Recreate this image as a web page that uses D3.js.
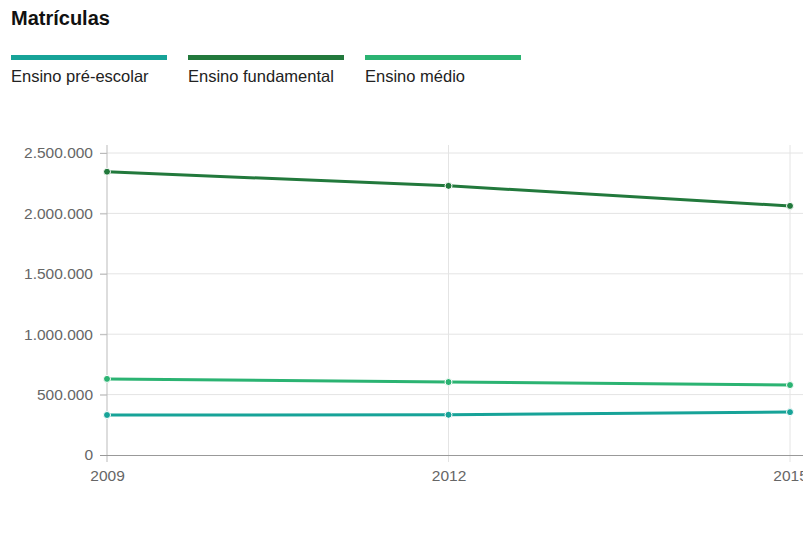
<!DOCTYPE html>
<html>
<head>
<meta charset="utf-8">
<script src="https://cdn.jsdelivr.net/npm/d3@7"></script>
<style>
  html, body { margin: 0; padding: 0; background: #fff; }
  svg { display: block; font-family: "Liberation Sans", Arial, sans-serif; }
</style>
</head>
<body>
<svg id="chart" width="803" height="533"></svg>
<script>
const years = [2009, 2012, 2015];
const seriesNames = ["Ensino pré-escolar", "Ensino fundamental", "Ensino médio"];
const preEscolar = [331000, 333000, 355000];
const fundamental = [2345000, 2228000, 2062000];
const medio = [630000, 604000, 579000];
const yTicks = [0, 500000, 1000000, 1500000, 2000000, 2500000];
const colors = ["#17a398", "#22793c", "#2bb372"];

const seriesValues = [preEscolar, fundamental, medio];
const svg = d3.select("#chart");

const x = d3.scaleLinear().domain([2009, 2015]).range([107, 790]);
const y = d3.scaleLinear().domain([0, 2500000]).range([455, 153]);

const fmt = d3.formatLocale({decimal: ",", thousands: ".", grouping: [3], currency: ["R$", ""]}).format(",.0f");

// Title
svg.append("text").attr("x", 11).attr("y", 25)
  .attr("font-size", 20).attr("font-weight", "bold").attr("fill", "#111")
  .text("Matrículas");

// Legend
const legendX = [11, 188, 365];
seriesNames.forEach((name, i) => {
  svg.append("rect").attr("x", legendX[i]).attr("y", 55).attr("width", 156).attr("height", 5)
    .attr("fill", colors[i]);
  svg.append("text").attr("x", legendX[i]).attr("y", 82)
    .attr("font-size", 16.5).attr("fill", "#222").text(name);
});

// Horizontal gridlines
svg.append("g").selectAll("line").data(yTicks.slice(1)).join("line")
  .attr("x1", 100).attr("x2", 803)
  .attr("y1", d => y(d)).attr("y2", d => y(d))
  .attr("stroke", "#e4e4e4").attr("stroke-width", 1);

// Vertical gridlines
svg.append("g").selectAll("line").data(years).join("line")
  .attr("x1", d => x(d)).attr("x2", d => x(d))
  .attr("y1", 145).attr("y2", 462)
  .attr("stroke", (d, i) => i === 0 ? "#bbb" : "#e4e4e4").attr("stroke-width", 1);

// Y axis
const yAxis = d3.axisLeft(y).tickValues(yTicks).tickFormat(fmt).tickSize(7).tickPadding(7);
const gy = svg.append("g").attr("transform", "translate(107,0)").call(yAxis);
gy.select(".domain").remove();
gy.selectAll(".tick line").attr("stroke", "#bbb");
gy.selectAll(".tick text").attr("font-size", 15.5).attr("fill", "#666")
  .attr("font-family", "Liberation Sans, Arial, sans-serif");

// X axis
const xAxis = d3.axisBottom(x).tickValues(years).tickFormat(d3.format("d")).tickSize(0).tickPadding(15);
const gx = svg.append("g").attr("transform", "translate(0,455)").call(xAxis);
gx.select(".domain").attr("d", "M100,0.5H803").attr("stroke", "#999");
gx.selectAll(".tick text").attr("font-size", 15.5).attr("fill", "#666")
  .attr("font-family", "Liberation Sans, Arial, sans-serif");

// Lines
const line = d3.line().x((d, i) => x(years[i])).y(d => y(d));
seriesValues.forEach((vals, i) => {
  svg.append("path").datum(vals).attr("d", line)
    .attr("fill", "none").attr("stroke", colors[i]).attr("stroke-width", 3)
    .attr("stroke-linejoin", "round");
  svg.append("g").selectAll("circle").data(vals).join("circle")
    .attr("cx", (d, j) => x(years[j])).attr("cy", d => y(d)).attr("r", 3.5)
    .attr("fill", colors[i]).attr("stroke", "#fff").attr("stroke-width", 1);
});
</script>
</body>
</html>
